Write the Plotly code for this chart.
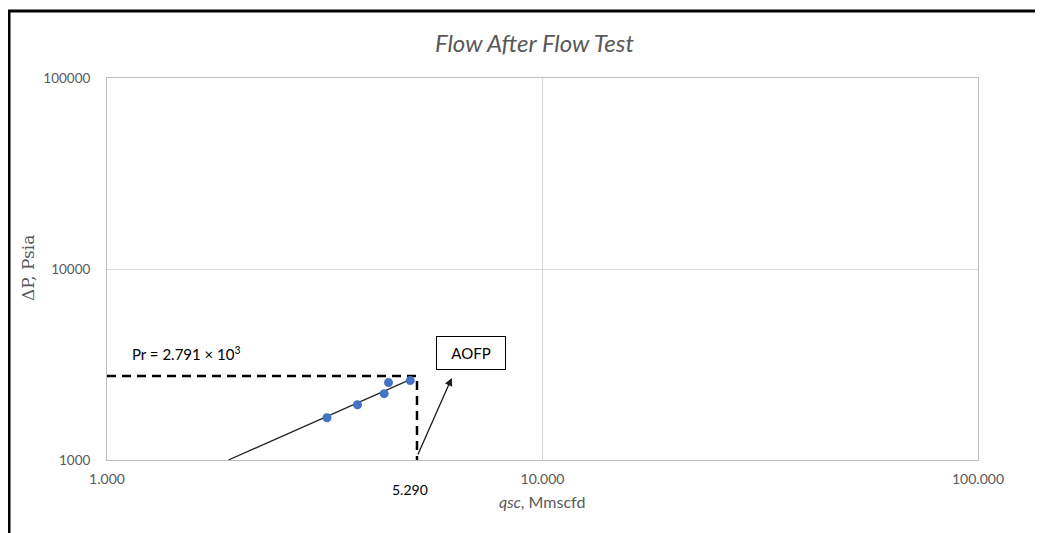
import math
import plotly.graph_objects as go

# ---- data ----
q_points = [3.20, 3.76, 4.33, 4.43, 4.97]          # qsc, Mmscfd
dp_points = [1664, 1947, 2225, 2543, 2604]          # delta P, psia

fit_q = [1.90, 5.01]
fit_dp = [1000, 2657]

aofp_q = 5.15        # where the dashed marker is drawn
pr_dp = 2750         # dashed horizontal line level
bottom_dp = 1000

arrow_tail = (5.157, 1049)
arrow_head = (6.19, 2690)
aofp_box_center = (6.87, 3636)
pr_label_pos = (1.526, 3594)

x_tickvals = [1, 10, 100]
x_ticktext = ["1.000", "10.000", "100.000"]
y_tickvals = [1000, 10000, 100000]
y_ticktext = ["1000", "10000", "100000"]

title_text = "Flow After Flow Test"
x_title = "<i>qsc</i>, Mmscfd"
y_title = "ΔP, Psia"
pr_text = "Pr = 2.791 × 10<sup>3</sup>"
aofp_text = "AOFP"
aofp_value_text = "5.290"

# page body has an 8px margin, so the figure starts at (8, 8) in the window
OFF = 8
W, H = 1035, 525
ML, MT = 107 - OFF, 78 - OFF
PR_, PB_ = 978 - OFF, 460 - OFF
MR, MB = W - PR_, H - PB_
PW, PH = W - ML - MR, H - MT - MB

def px2paper_x(px):
    return (px - OFF - ML) / PW

def py2paper_y(py):
    return (H - MB - (py - OFF)) / PH

FONT = "Lato, Carlito, Calibri, sans-serif"
GREY = "#595959"

fig = go.Figure()

fig.add_trace(go.Scatter(
    x=fit_q, y=fit_dp, mode="lines",
    line=dict(color="#262626", width=1.3), showlegend=False, hoverinfo="skip"))

fig.add_trace(go.Scatter(
    x=[1, aofp_q, aofp_q], y=[pr_dp, pr_dp, bottom_dp], mode="lines",
    line=dict(color="black", width=2.5, dash="9px,6px"), showlegend=False,
    hoverinfo="skip"))

fig.add_trace(go.Scatter(
    x=q_points, y=dp_points, mode="markers",
    marker=dict(color="#4472C4", size=9), showlegend=False))

def ptext(px, py, text, size, color, family=FONT, angle=0):
    return dict(x=px2paper_x(px), y=py2paper_y(py), xref="paper", yref="paper",
                xanchor="center", yanchor="middle", text=text, showarrow=False,
                textangle=angle, font=dict(family=family, size=size, color=color))

annotations = [
    dict(x=math.log10(arrow_head[0]), y=math.log10(arrow_head[1]),
         ax=math.log10(arrow_tail[0]), ay=math.log10(arrow_tail[1]),
         xref="x", yref="y", axref="x", ayref="y", text="", showarrow=True,
         arrowhead=2, arrowsize=1.2, arrowwidth=1.3, arrowcolor="#1a1a1a",
         standoff=0, startstandoff=0),
    dict(x=math.log10(aofp_box_center[0]), y=math.log10(aofp_box_center[1]),
         xref="x", yref="y", xanchor="center", yanchor="middle",
         text=aofp_text, showarrow=False,
         font=dict(family=FONT, size=15, color="black"),
         bordercolor="black", borderwidth=1, borderpad=0, bgcolor="white",
         width=68, height=32),
    dict(x=math.log10(pr_label_pos[0]), y=math.log10(pr_label_pos[1]),
         xref="x", yref="y", xanchor="center", yanchor="middle",
         text=pr_text, showarrow=False,
         font=dict(family=FONT, size=15, color="black")),
    ptext(410, 489, aofp_value_text, 14, "black"),
    ptext(534, 42, "<i>" + title_text + "</i>", 24, GREY),
    ptext(542, 501, x_title, 16, GREY),
    ptext(28, 268, y_title, 17, GREY,
          family="DejaVu Serif, Liberation Serif, serif", angle=-90),
]

shapes = [
    dict(type="line", xref="paper", yref="paper",
         x0=px2paper_x(9), x1=px2paper_x(9), y0=py2paper_y(10), y1=py2paper_y(540),
         line=dict(color="black", width=3)),
    dict(type="line", xref="paper", yref="paper",
         x0=px2paper_x(8), x1=px2paper_x(1050), y0=py2paper_y(11), y1=py2paper_y(11),
         line=dict(color="black", width=3)),
]

fig.update_layout(
    width=W, height=H,
    margin=dict(l=ML, r=MR, t=MT, b=MB, pad=0),
    paper_bgcolor="white", plot_bgcolor="white",
    annotations=annotations, shapes=shapes,
    xaxis=dict(type="log", range=[0, 2], tickvals=x_tickvals, ticktext=x_ticktext,
               showgrid=True, gridcolor="#d9d9d9", gridwidth=1,
               showline=True, linecolor="#bfbfbf", linewidth=1, mirror=True,
               ticks="", ticklabelstandoff=6, zeroline=False,
               tickfont=dict(family=FONT, size=14, color=GREY)),
    yaxis=dict(type="log", range=[3, 5], tickvals=y_tickvals, ticktext=y_ticktext,
               showgrid=True, gridcolor="#d9d9d9", gridwidth=1,
               showline=True, linecolor="#bfbfbf", linewidth=1, mirror=True,
               ticks="", ticklabelstandoff=13, zeroline=False,
               tickfont=dict(family=FONT, size=13.5, color=GREY)),
)

fig.write_html("out.html")
